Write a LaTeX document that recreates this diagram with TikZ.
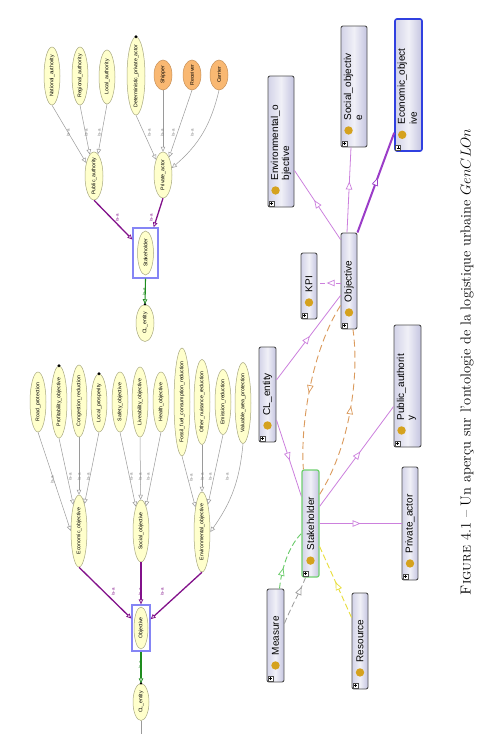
\documentclass[tikz,border=0pt]{standalone}
\usepackage{fontspec}
\newfontfamily\arial{Liberation Sans}
\usetikzlibrary{arrows.meta,shapes.geometric,calc,decorations.markings}
\definecolor{ellf}{HTML}{FFFFCC}
\definecolor{ellb}{HTML}{A8A880}
\definecolor{orgf}{HTML}{F9B872}
\definecolor{orgb}{HTML}{C8925A}
\definecolor{isagr}{HTML}{9A9A9A}
\definecolor{purp}{HTML}{82118A}
\definecolor{grn}{HTML}{1E8C1E}
\definecolor{selbl}{HTML}{8585F5}
\definecolor{owlb}{HTML}{4E4E4E}
\definecolor{owll}{HTML}{C4C4E0}
\definecolor{vio}{HTML}{CC80DD}
\definecolor{viod}{HTML}{9B3CC8}
\definecolor{ordash}{HTML}{DB9A5C}
\definecolor{grdash}{HTML}{6ACB6A}
\definecolor{gydash}{HTML}{9C9C9C}
\definecolor{yedash}{HTML}{E8DE3A}
\definecolor{gold}{HTML}{D5A21E}
\definecolor{ecob}{HTML}{3040E0}
\definecolor{stkg}{HTML}{70D070}
\newcommand\plusbox[1]{%
  \draw[owlb, line width=0.5pt, fill=white] ($(#1.south west)+(1.5,-1.5)$) rectangle ++(5,-5);
  \draw[black, line width=0.6pt] ($(#1.south west)+(4,-2.5)$) -- ++(0,-3) ($(#1.south west)+(2.5,-4)$) -- ++(3,0);}
\newcommand\owlone[2]{%
  \fill[gold] ($(#1.south)+(0,-17)$) circle (4.2pt);
  \node[owltxt] (#1t) at ($(#1.south)+(0,-27)$) {#2};
  \plusbox{#1}}
\newcommand\owltwo[3]{%
  \fill[gold] ($(#1.south west)+(8,-17)$) circle (4.2pt);
  \node[owltxt] (#1t) at ($(#1.south west)+(8,-27)$) {#2};
  \node[owltxt] (#1u) at ($(#1.south west)+(19,-27)$) {#3};
  \plusbox{#1}}
\begin{document}
\begin{tikzpicture}[x=1pt,y=-1pt,
  ell/.style={ellipse, draw=ellb, fill=ellf, line width=0.5pt, inner xsep=-12pt, inner ysep=0pt, rotate=90, font=\arial\fontsize{5.2}{6}\selectfont},
  org/.style={ell, draw=orgb, fill=orgf},
  isa/.style={draw=isagr, line width=0.5pt, -{Triangle[fill=white,length=5pt,width=4.5pt]}},
  isap/.style={draw=purp, line width=1.3pt, -{Triangle[fill=white,length=5pt,width=4.5pt,line width=0.8pt]}},
  isag/.style={draw=grn, line width=1.1pt, -{Triangle[fill=white,length=5pt,width=4.5pt,line width=0.8pt]}},
  lab/.style={rotate=90, inner sep=0pt, font=\arial\fontsize{4.5}{5}\selectfont, text=#1},
  lab/.default=gray,
  selbox/.style={draw=selbl, line width=1.3pt, inner sep=0pt},
  owl/.style={rectangle, rounded corners=2pt, draw=owlb, line width=0.9pt, left color=owll!75, right color=owll, middle color=owll!25, inner sep=0pt},
  owltxt/.style={rotate=90, anchor=west, inner sep=0pt, font=\arial\fontsize{10}{12}\selectfont},
  midtri/.style={postaction={decorate}, decoration={markings, mark=at position #1 with {\arrow{Triangle[fill=white,length=8pt,width=6.5pt,line width=0.7pt]}}}},
  odash/.style={draw=ordash, line width=0.9pt, dash pattern=on 7pt off 4pt}
]
\useasboundingbox[fill=white] (0,0) rectangle (502,756);

% ---------- upper-left tree ----------
\node[ell, minimum width=58pt, minimum height=16pt] (nat) at (52,76) {National\_authority};
\node[ell, minimum width=58pt, minimum height=16pt] (reg) at (80,76) {Regional\_authority};
\node[ell, minimum width=54pt, minimum height=16pt] (loc) at (107,77) {Local\_authority};
\node[ell, minimum width=78pt, minimum height=18pt] (det) at (136,76) {Deterministic\_private\_actor};
\node[org, minimum width=30pt, minimum height=18pt] (shp) at (163,75) {Shipper};
\node[org, minimum width=30pt, minimum height=18pt] (rcv) at (192,75) {Receiver};
\node[org, minimum width=30pt, minimum height=18pt] (car) at (219,75) {Carrier};
\node[ell, minimum width=48pt, minimum height=18pt] (pub) at (94,176) {Public\_authority};
\node[ell, minimum width=46pt, minimum height=18pt] (prv) at (163,175) {Private\_actor};
\node[selbox, minimum width=25pt, minimum height=50pt] (stkbox) at (145.5,253) {};
\node[ell, minimum width=44pt, minimum height=16pt] (stk) at (145.5,253) {Stakeholder};
\node[ell, minimum width=37pt, minimum height=18pt] (cla) at (145,323) {CL\_entity};
\fill (det.east) circle (1.6pt);
\fill (cla.east) circle (1.4pt);

\draw[isa] (nat.west) -- (pub);
\draw[isa] (reg.west) -- (pub);
\draw[isa] (loc.west) -- (pub);
\draw[isa] (det.west) -- (prv);
\draw[isa] (shp.west) -- (prv);
\draw[isa] (rcv.west) -- (prv);
\draw[isa] (car.west) to[bend left=18] (prv);
\draw[isap] (pub.west) -- (stkbox);
\draw[isap] (prv.west) -- (stkbox);
\draw[isag] (stkbox.south) -- (cla.east);

\node[lab] (l1) at (68,133) {is-a};
\node[lab] (l2) at (86,133) {is-a};
\node[lab] (l3) at (99,133) {is-a};
\node[lab] (l4) at (149,133) {is-a};
\node[lab] (l5) at (162,133) {is-a};
\node[lab] (l6) at (173,133) {is-a};
\node[lab] (l7) at (192,133) {is-a};
\node[lab=purp] (l8) at (117,218) {is-a};
\node[lab=purp] (l9) at (151,218) {is-a};
\node[lab=grn] (l10) at (144,292) {is-a};

% ---------- lower-left tree ----------
\node[ell, minimum width=60pt, minimum height=16pt] (road) at (38,402) {Road\_protection};
\node[ell, minimum width=72pt, minimum height=16pt] (prof) at (59,402) {Profitability\_objective};
\node[ell, minimum width=72pt, minimum height=16pt] (cong) at (79,401) {Congestion\_reduction};
\node[ell, minimum width=58pt, minimum height=16pt] (lpro) at (99,403) {Local\_prosperity};
\node[ell, minimum width=60pt, minimum height=16pt] (safe) at (120,402) {Safety\_objective};
\node[ell, minimum width=70pt, minimum height=16pt] (live) at (140,402) {Liveability\_objective};
\node[ell, minimum width=60pt, minimum height=16pt] (heal) at (161,402) {Health\_objective};
\node[ell, minimum width=108pt, minimum height=16pt] (foss) at (182,402) {Fossil\_fuel\_consumption\_reduction};
\node[ell, minimum width=85pt, minimum height=16pt] (othn) at (202,402) {Other\_nuisance\_reduction};
\node[ell, minimum width=65pt, minimum height=16pt] (emis) at (223,402) {Emission\_reduction};
\node[ell, minimum width=81pt, minimum height=16pt] (valu) at (243,403) {Valuable\_area\_protection};
\node[ell, minimum width=72pt, minimum height=16pt] (eco) at (79,531) {Economic\_objective};
\node[ell, minimum width=62pt, minimum height=16pt] (soc) at (141,531) {Social\_objective};
\node[ell, minimum width=80pt, minimum height=16pt] (env) at (202,532) {Environmental\_objective};
\node[selbox, minimum width=18pt, minimum height=46pt] (objbox) at (141,628) {};
\node[ell, minimum width=42pt, minimum height=14pt] (objl) at (141,628) {Objective};
\node[ell, minimum width=37pt, minimum height=16pt] (clb) at (141,702) {CL\_entity};
\coordinate (cltail) at (141,734);
\fill (prof.east) circle (1.6pt);
\fill (lpro.east) circle (1.6pt);
\fill (clb.east) circle (1.4pt);

\draw[isa] (road.west) -- (eco.north);
\draw[isa] (prof.west) -- (eco);
\draw[isa] (cong.west) -- (eco);
\draw[isa] (lpro.west) -- (eco);
\draw[isa] (safe.west) -- (soc);
\draw[isa] (live.west) -- (soc);
\draw[isa] (heal.west) -- (soc);
\draw[isa] (foss.west) -- (env);
\draw[isa] (othn.west) -- (env);
\draw[isa] (emis.west) -- (env);
\draw[isa] (valu.west) to[bend left=15] (env.south);
\draw[isap] (eco.west) -- (objbox);
\draw[isap] (soc.west) -- (objbox);
\draw[isap] (env.west) -- (objbox);
\draw[isag] (objbox.south) -- (clb.east);
\draw[isagr, line width=0.5pt] (clb.west) -- (cltail);

\node[lab] (m1) at (52,480) {is-a};
\node[lab] (m2) at (70,477) {is-a};
\node[lab] (m3) at (79,477) {is-a};
\node[lab] (m4) at (88,477) {is-a};
\node[lab] (m5) at (131,477) {is-a};
\node[lab] (m6) at (140,477) {is-a};
\node[lab] (m7) at (148,477) {is-a};
\node[lab] (m8) at (191,478) {is-a};
\node[lab] (m9) at (202,477) {is-a};
\node[lab] (m10) at (210,477) {is-a};
\node[lab] (m11) at (227,477) {is-a};
\node[lab=purp] (m12) at (113,592) {is-a};
\node[lab=purp] (m13) at (140,592) {is-a};
\node[lab=purp] (m14) at (162,592) {is-a};
\node[lab=grn] (m15) at (140,665) {is-a};

% ---------- right graph ----------
\node[owl, minimum width=26pt, minimum height=131pt] (envB) at (281,141.5) {};
\node[owl, minimum width=26pt, minimum height=121pt] (socB) at (354,86.5) {};
\node[owl, draw=ecob, line width=1.6pt, minimum width=27pt, minimum height=132pt] (ecoB) at (408.5,85) {};
\node[owl, minimum width=16pt, minimum height=66pt] (kpiB) at (309,286) {};
\node[owl, minimum width=16pt, minimum height=96pt] (objB) at (349,281) {};
\node[owl, minimum width=17pt, minimum height=95pt] (clB) at (267.5,394.5) {};
\node[owl, minimum width=27pt, minimum height=122pt] (pubB) at (407.5,386) {};
\node[owl, draw=stkg, line width=1.2pt, minimum width=17pt, minimum height=107pt] (stkB) at (310.5,523.5) {};
\node[owl, minimum width=16pt, minimum height=113pt] (prvB) at (410,523.5) {};
\node[owl, minimum width=17pt, minimum height=93pt] (meaB) at (275.5,635.5) {};
\node[owl, minimum width=16pt, minimum height=96pt] (resB) at (360,641) {};

\owltwo{envB}{Environmental\_o}{bjective}
\owltwo{socB}{Social\_objectiv}{e}
\owltwo{ecoB}{Economic\_object}{ive}
\owltwo{pubB}{Public\_authorit}{y}
\owlone{kpiB}{KPI}
\owlone{objB}{Objective}
\owlone{clB}{CL\_entity}
\owlone{stkB}{Stakeholder}
\owlone{prvB}{Private\_actor}
\owlone{meaB}{Measure}
\owlone{resB}{Resource}

\draw[vio, line width=0.8pt, midtri=0.57] ($(objB.north west)+(0,7)$) -- ($(envB.south east)+(0,-37)$);
\draw[vio, line width=0.8pt, midtri=0.6] ($(objB.north)+(-2,0)$) -- ($(socB.south)+(-3,0)$);
\draw[viod, line width=2pt, midtri=0.55] (objB.north east) -- ($(ecoB.south west)+(0,-19)$);
\draw[vio, line width=0.9pt, dash pattern=on 5pt off 3pt, midtri=0.6] ($(objB.west)+(0,2)$) -- ($(kpiB.east)+(0,-3)$);
\draw[vio, line width=0.8pt, midtri=0.52] ($(clB.east)+(0,-14.5)$) -- ($(objB.south west)+(0,-34)$);
\draw[vio, line width=0.8pt, midtri=0.53] ($(clB.east)+(0,25.5)$) -- ($(stkB.north west)+(0,27)$);
\draw[vio, line width=0.8pt, midtri=0.55] ($(stkB.north east)+(0,37)$) -- ($(pubB.north west)+(0,82)$);
\draw[vio, line width=0.8pt, midtri=0.5] (stkB.east) -- (prvB.west);

\draw[odash, midtri=0.55] ($(objB.south west)+(0,-24)$) .. controls (312,350) and (300,425) .. ($(stkB.north west)+(2,0)$);
\draw[odash, midtri=0.55] ($(stkB.north east)+(0,25)$) .. controls (348,450) and (360,380) .. ($(objB.south)+(4,0)$);
\draw[draw=grdash, line width=0.9pt, dash pattern=on 6pt off 3pt, midtri=0.35] ($(meaB.north)+(4,0)$) .. controls (282,565) and (290,545) .. ($(stkB.west)+(0,10)$);
\draw[draw=gydash, line width=0.8pt, dash pattern=on 6pt off 3pt, midtri=0.8] ($(meaB.east)+(0,-12)$) .. controls (292,605) and (300,592) .. ($(stkB.south)+(-5,0)$);
\draw[draw=yedash, line width=0.9pt, dash pattern=on 6pt off 3pt, midtri=0.5] ($(resB.north west)+(0,25)$) -- ($(stkB.east)+(0,23)$);

% ---------- caption ----------
\node[rotate=90, inner sep=0pt, font=\fontsize{14.5}{17}\selectfont] (cap) at (467,362) {\textsc{Figure}~4.1 -- Un aperçu sur l'ontologie de la logistique urbaine $GenCLOn$};
\end{tikzpicture}
\end{document}
